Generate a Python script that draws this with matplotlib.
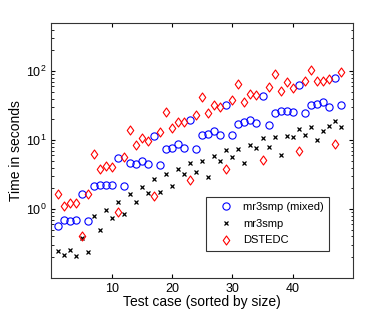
import numpy as np
import matplotlib
matplotlib.use('Agg')
import matplotlib.pyplot as plt
from matplotlib.path import Path

plt.rcParams['font.family'] = ['Liberation Sans', 'DejaVu Sans']
plt.rcParams['mathtext.fontset'] = 'custom'
plt.rcParams['mathtext.rm'] = 'Liberation Sans'

# test case index 1..48
cases = list(range(1, 49))

# mr3smp (mixed)
mixed = [0.56, 0.69, 0.66, 0.69, 1.65, 0.68, 2.17, 2.25, 2.22, 2.22,
         5.44, 2.17, 4.71, 4.56, 4.93, 4.51, 11.4, 4.36, 7.5, 7.77,
         8.67, 7.67, 19.4, 7.34, 11.7, 12.4, 13.4, 11.9, 32.0, 11.7,
         16.9, 18.2, 19.4, 17.4, 43.1, 16.5, 24.8, 26.2, 26.2, 25.4,
         62.2, 24.8, 32.7, 33.9, 35.4, 30.0, 78.5, 32.7]

# mr3smp
mr3 = [0.245, 0.217, 0.256, 0.212, 0.38, 0.237, 0.80, 0.50, 0.98, 0.73,
       1.28, 0.85, 1.65, 1.28, 2.08, 1.70, 2.71, 1.74, 3.23, 2.15,
       3.87, 3.27, 4.71, 3.50, 4.98, 2.93, 5.94, 4.98, 7.17, 5.76,
       7.5, 4.65, 8.39, 7.77, 10.6, 8.03, 11.2, 6.15, 11.4, 11.2,
       14.3, 11.7, 15.4, 10.0, 13.5, 15.9, 18.8, 15.6]

# DSTEDC
dstedc = [1.68, 1.12, 1.22, 1.22, 0.41, 1.68, 6.28, 3.78, 4.17, 4.04,
          0.90, 5.76, 13.9, 8.39, 10.7, 9.68, 1.56, 13.1, 25.7, 14.9,
          18.4, 18.4, 2.62, 23.2, 41.8, 24.3, 32.7, 30.0, 3.82, 38.7,
          64.3, 35.8, 47.2, 45.6, 5.15, 58.2, 91.7, 50.9, 69.6, 57.0,
          6.95, 72.7, 105.0, 71.1, 71.8, 76.9, 8.67, 95.8]

# matlab-like diamond, a bit narrower than tall
diamond = Path([(0, 1), (0.72, 0), (0, -1), (-0.72, 0), (0, 1)],
               [Path.MOVETO, Path.LINETO, Path.LINETO, Path.LINETO, Path.CLOSEPOLY])

fig = plt.figure(figsize=(3.9, 3.14), dpi=100)
ax = fig.add_axes([0.132, 0.1146, 0.773, 0.8125])

ax.semilogy(cases, mixed, 'o', color='b', markerfacecolor='none',
            markersize=5.2, markeredgewidth=0.8, label='mr3smp (mixed)')
ax.semilogy(cases, mr3, 'x', color='k', markersize=3.5,
            markeredgewidth=0.9, label='mr3smp')
ax.semilogy(cases, dstedc, marker=diamond, linestyle='none', color='r',
            markerfacecolor='none', markersize=6.5, markeredgewidth=0.8,
            label='DSTEDC')

ax.set_xlim(0, 50)
ax.set_ylim(0.1, 500)
ax.set_xticks([10, 20, 30, 40])
ax.set_yticks([1, 10, 100])
ax.tick_params(which='both', direction='in', top=True, right=True,
               labelsize=9, colors='k')
ax.tick_params(which='major', length=3)
ax.tick_params(which='minor', length=1.8)
for s in ax.spines.values():
    s.set_linewidth(0.8)
    s.set_color('#333333')

ax.set_xlabel('Test case (sorted by size)', fontsize=10, labelpad=0)
ax.set_ylabel('Time in seconds', fontsize=10, labelpad=2)

leg = ax.legend(loc='lower left', bbox_to_anchor=(0.512, 0.106),
                fontsize=8, fancybox=False, edgecolor='k',
                borderaxespad=0, handletextpad=0.25, labelspacing=0.6,
                handlelength=2.6, borderpad=0.5)
leg.get_frame().set_linewidth(0.8)

fig.savefig('out.png', dpi=100)
